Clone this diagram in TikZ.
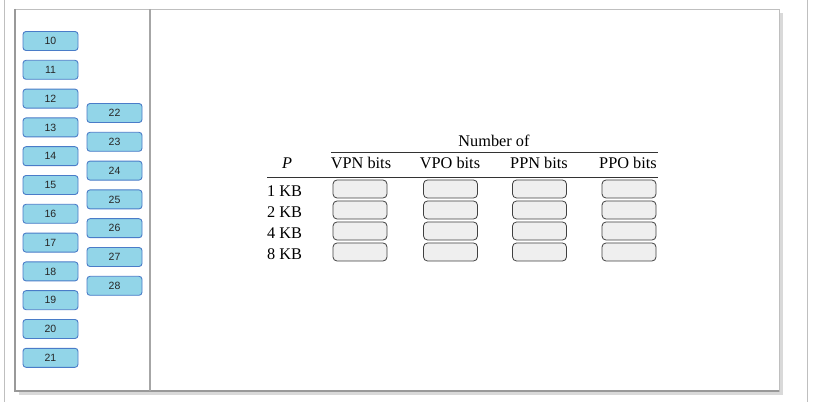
\documentclass[tikz,border=0pt]{standalone}
\usepackage{fontspec}
\setmainfont{Liberation Serif}
\newfontfamily\tilefont{Liberation Sans}
\usetikzlibrary{positioning}
\definecolor{tilefill}{HTML}{92D5E8}
\definecolor{tileedge}{HTML}{4A7CC8}
\definecolor{slotfill}{HTML}{EFEFEF}
\tikzset{
tile/.style={draw=tileedge, fill=tilefill, line width=0.9pt, rounded corners=3pt, minimum width=55pt, minimum height=19pt, inner sep=0pt, text=black!85, font=\tilefont\fontsize{10.5}{11}\selectfont}, % the number tiles on the left
slot/.style={draw=black!75, fill=slotfill, line width=0.8pt, rounded corners=4pt, minimum width=54pt, minimum height=18pt, inner sep=0pt}, % the empty answer boxes
head/.style={inner sep=0pt, font=\fontsize{16.3}{17}\selectfont}, % table text
}

\begin{document}
\begin{tikzpicture}[x=1pt, y=-1pt, on grid]
    \useasboundingbox (0,0) rectangle (819,403);

    % frames
    \draw[black!25] (4,0) -- (4,402);
    \draw[black!25] (807,0) -- (807,402);
    \fill[black!15] (19,13) rectangle (783,395);
    \fill[black!35] (17,11) rectangle (780,392);
    \draw[black!25, fill=white] (15,9) rectangle (779,391);
    \draw[black!40, line width=1.2pt] (15,9) -- (15,391) -- (779,391);
    \draw[black!35, line width=2pt] (150,9) -- (150,391);

    % tiles
    \begin{scope}[node distance=28.8pt]
    \node[tile] (t10) at (50.5,41) {10};
    \node[tile, below=of t10] (t11) {11};
    \node[tile, below=of t11] (t12) {12};
    \node[tile, below=of t12] (t13) {13};
    \node[tile, below=of t13] (t14) {14};
    \node[tile, below=of t14] (t15) {15};
    \node[tile, below=of t15] (t16) {16};
    \node[tile, below=of t16] (t17) {17};
    \node[tile, below=of t17] (t18) {18};
    \node[tile, below=of t18] (t19) {19};
    \node[tile, below=of t19] (t20) {20};
    \node[tile, below=of t20] (t21) {21};

    \node[tile] (t22) at (114.5,113) {22};
    \node[tile, below=of t22] (t23) {23};
    \node[tile, below=of t23] (t24) {24};
    \node[tile, below=of t24] (t25) {25};
    \node[tile, below=of t25] (t26) {26};
    \node[tile, below=of t26] (t27) {27};
    \node[tile, below=of t27] (t28) {28};
    \end{scope}

    % table head
    \node[head] (numof) at (494,141) {Number of};
    \node[head] (hp) at (287,163) {\textit{P}};
    \node[head] (hvpn) at (361,163) {VPN bits};
    \node[head] (hvpo) at (450,163) {VPO bits};
    \node[head] (hppn) at (539,163) {PPN bits};
    \node[head] (hppo) at (628,163) {PPO bits};
    \draw[black!80, line width=0.8pt] (331,152) -- (658,152);
    \draw[black!80, line width=0.8pt] (267,177) -- (658,177);

    % row labels
    \node[head, anchor=west] (r1) at (267,191) {1 KB};
    \node[head, anchor=west] (r2) at (267,212) {2 KB};
    \node[head, anchor=west] (r4) at (267,233) {4 KB};
    \node[head, anchor=west] (r8) at (267,254) {8 KB};

    % answer boxes
    \begin{scope}[node distance=21pt]
    \node[slot] (vpn1) at (360,189) {};
    \node[slot, below=of vpn1] (vpn2) {};
    \node[slot, below=of vpn2] (vpn4) {};
    \node[slot, below=of vpn4] (vpn8) {};

    \node[slot] (vpo1) at (450.5,189) {};
    \node[slot, below=of vpo1] (vpo2) {};
    \node[slot, below=of vpo2] (vpo4) {};
    \node[slot, below=of vpo4] (vpo8) {};

    \node[slot] (ppn1) at (539.5,189) {};
    \node[slot, below=of ppn1] (ppn2) {};
    \node[slot, below=of ppn2] (ppn4) {};
    \node[slot, below=of ppn4] (ppn8) {};

    \node[slot] (ppo1) at (629,189) {};
    \node[slot, below=of ppo1] (ppo2) {};
    \node[slot, below=of ppo2] (ppo4) {};
    \node[slot, below=of ppo4] (ppo8) {};
    \end{scope}
  \end{tikzpicture}
\end{document}
